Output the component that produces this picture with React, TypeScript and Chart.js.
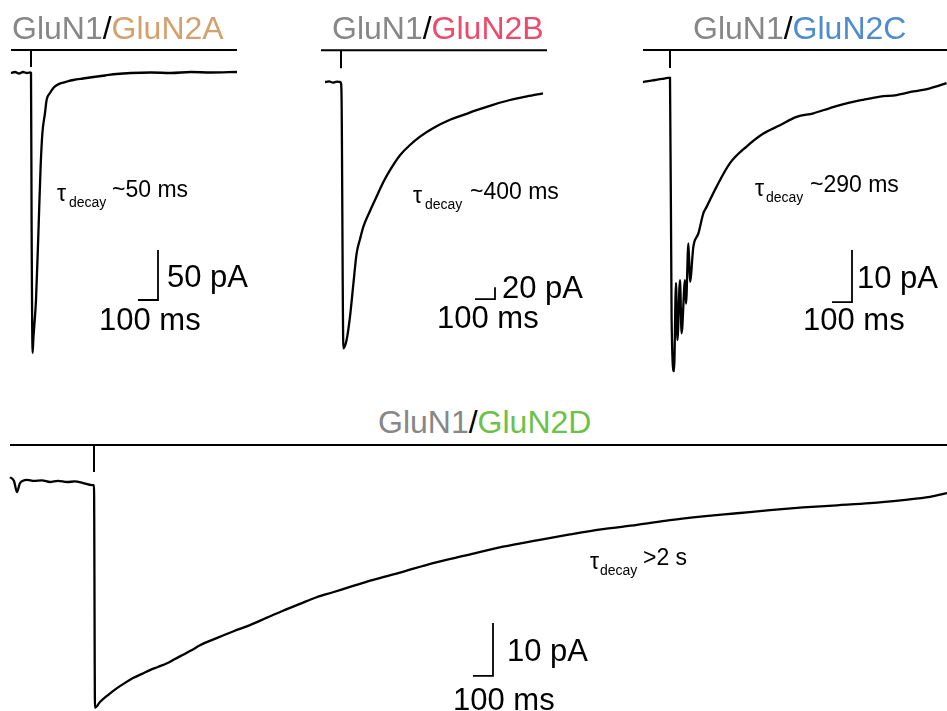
import React, { useEffect, useRef } from "react";
import { Chart, registerables } from "chart.js";

Chart.register(...registerables);

// ---- Data (time in ms from agonist onset, current in pA relative to baseline) ----
// GluN1/GluN2A
const tA = [-100, -80, -60, -40, -20, -5, 0, 3, 8, 12, 25, 37, 48, 57, 70, 78, 95, 112, 130, 153, 180, 212, 260, 312, 370, 428, 500, 600, 700, 800, 900, 1030];
const iA = [0, 1, -0.5, 1, 0, 0.5, 0, -150, -280, -265, -227, -160, -94, -60, -40, -27, -20, -15, -12, -10, -8.5, -7, -5.5, -4, -2.5, -1, 0, 0.5, 0, 1, 0.5, 1];
// GluN1/GluN2B
const tB = [-80, -60, -40, -20, -5, 0, 3, 12, 28, 45, 62, 78, 95, 112, 145, 178, 210, 245, 295, 345, 395, 460, 545, 620, 678, 760, 845, 930, 1010];
const iB = [0, 1, -1, 0.5, 0, -2, -30, -444, -430, -391, -336, -286, -262, -241, -215, -191, -168, -147, -122, -105, -91, -77, -63, -54, -47, -38, -30, -24, -19];
// GluN1/GluN2C
const tC = [-135, -110, -75, -40, -10, 0, 8, 20, 30, 37, 50, 58, 75, 80, 92, 100, 117, 142, 167, 183, 233, 300, 383, 467, 550, 633, 717, 800, 883, 967, 1050, 1133, 1217, 1300, 1383];
const iC = [-0.4, -0.2, 0, 0.2, 0.4, 0.4, -46, -56, -39, -50, -38.5, -48.7, -38.5, -43, -31.4, -38.8, -32, -29.5, -25.6, -24.4, -20.5, -16, -12.8, -10.3, -8.7, -7.1, -6.4, -5.4, -4.5, -3.8, -3.2, -2.9, -2.2, -1.6, -0.6];
// GluN1/GluN2D
const tD = [-420, -400, -385, -370, -335, -300, -260, -220, -180, -135, -95, -55, -10, 0, 5, 30, 70, 115, 155, 195, 240, 280, 320, 365, 405, 445, 490, 530, 610, 695, 780, 865, 945, 1030, 1110, 1195, 1280, 1365, 1450, 1530, 1695, 1865, 2045, 2215, 2380, 2545, 2715, 2880, 3045, 3215, 3380, 3545, 3715, 3880, 4045, 4180, 4265];
const iD = [0.9, 0.2, -1.9, -0.2, 0.4, 0.2, 0.3, 0, 0.2, 0, 0.1, -0.2, -0.6, -0.6, -42.6, -41.5, -40.2, -38.9, -37.9, -37.0, -36.2, -35.5, -34.9, -34.2, -33.4, -32.6, -31.7, -30.8, -29.5, -28.2, -27.0, -25.6, -24.3, -23.0, -21.8, -20.8, -19.8, -18.8, -17.9, -17.1, -15.3, -13.8, -12.2, -11.0, -9.9, -8.9, -8.1, -7.2, -6.5, -5.9, -5.3, -4.8, -4.4, -4.0, -3.4, -2.8, -2.1];

// agonist application bars [start ms, end ms, level pA, tick end pA]
const stimA = [-100, 1030, 23, 6];
const stimB = [-100, 1030, 53, 23];
const stimC = [-135, 1385, 5.77, 2.3];
const stimD = [-420, 4265, 6.98, 1.89];

// scale bars [corner ms, corner pA, length ms, length pA]
const barA = [535, -227, 100, 50];
const barB = [670, -362, 100, 20];
const barC = [810, -42.7, 100, 10];
const barD = [1895, -36.6, 100, 10];

const titles = ["GluN2A", "GluN2B", "GluN2C", "GluN2D"];
const scaleLabelsPA = ["50 pA", "20 pA", "10 pA", "10 pA"];
const tauLabels = ["~50 ms", "~400 ms", "~290 ms", ">2 s"];

const FONT = '"Liberation Sans", Arial, Helvetica, sans-serif';
const GREY = "#878787";
const COLORS = ["#d4a06c", "#ee4a6b", "#4d8ccf", "#6cc148"];

type PanelProps = {
  left: number; top: number; width: number; height: number;
  xMin: number; xMax: number; yMin: number; yMax: number;
  t: number[]; i: number[]; stim: number[]; bar: number[];
};

function Panel(p: PanelProps) {
  const ref = useRef<HTMLCanvasElement | null>(null);
  useEffect(() => {
    if (!ref.current) return;
    const line = (data: { x: number; y: number }[], w: number, smooth = false) => ({
      type: "line" as const,
      data,
      borderColor: "#000",
      borderWidth: w,
      pointRadius: 0,
      fill: false,
      tension: 0,
      cubicInterpolationMode: smooth ? ("monotone" as const) : ("default" as const),
      borderCapStyle: "butt" as const,
      borderJoinStyle: "miter" as const,
      clip: false as any,
    });
    const [s0, s1, sl, st] = p.stim;
    const [bx, by, bdx, bdy] = p.bar;
    const chart = new Chart(ref.current, {
      type: "line",
      data: {
        datasets: [
          line(p.t.map((x, k) => ({ x, y: p.i[k] })), 2.3, true),
          line([{ x: s0, y: sl }, { x: s1, y: sl }], 2),
          line([{ x: 0, y: sl }, { x: 0, y: st }], 2),
          line([{ x: bx, y: by }, { x: bx + bdx, y: by }, { x: bx + bdx, y: by + bdy }], 1.8),
        ],
      },
      options: {
        animation: false,
        responsive: false,
        maintainAspectRatio: false,
        events: [],
        layout: { padding: 0 },
        plugins: { legend: { display: false }, tooltip: { enabled: false }, title: { display: false } },
        scales: {
          x: { type: "linear", min: p.xMin, max: p.xMax, display: false },
          y: { type: "linear", min: p.yMin, max: p.yMax, display: false },
        },
      },
    });
    return () => chart.destroy();
  }, []);
  return (
    <canvas
      ref={ref}
      width={p.width}
      height={p.height}
      style={{ position: "absolute", left: p.left, top: p.top, width: p.width, height: p.height }}
    />
  );
}

function Txt({ x, b, size, color = "#000", children }: { x: number; b: number; size: number; color?: string; children: React.ReactNode }) {
  return (
    <span
      style={{
        position: "absolute",
        left: x,
        top: b - 0.8465 * size,
        fontSize: size,
        lineHeight: size + "px",
        fontFamily: FONT,
        color,
        whiteSpace: "nowrap",
      }}
    >
      {children}
    </span>
  );
}

function Title({ x, b, k }: { x: number; b: number; k: number }) {
  return (
    <Txt x={x} b={b} size={32}>
      <span style={{ color: GREY }}>GluN1</span>
      <span style={{ color: "#000" }}>/</span>
      <span style={{ color: COLORS[k] }}>{titles[k]}</span>
    </Txt>
  );
}

function Tau({ x, xs, xt, b, k }: { x: number; xs: number; xt: number; b: number; k: number }) {
  return (
    <>
      <Txt x={x} b={b + 4} size={23}>τ</Txt>
      <Txt x={xs} b={b + 10} size={14}>decay</Txt>
      <Txt x={xt} b={b} size={23}>{tauLabels[k]}</Txt>
    </>
  );
}

export default function App() {
  return (
    <div style={{ position: "absolute", left: 0, top: 0, width: 947, height: 711, overflow: "hidden", background: "#fff" }}>
      <Panel left={0} top={40} width={250} height={330} xMin={-155} xMax={1095} yMin={-297} yMax={33} t={tA} i={iA} stim={stimA} bar={barA} />
      <Panel left={310} top={40} width={250} height={330} xMin={-155} xMax={1095} yMin={-480} yMax={70} t={tB} i={iB} stim={stimB} bar={barB} />
      <Panel left={630} top={40} width={317} height={340} xMin={-200} xMax={1385} yMin={-57.69} yMax={7.69} t={tC} i={iC} stim={stimC} bar={barC} />
      <Panel left={0} top={440} width={947} height={271} xMin={-470} xMax={4265} yMin={-43.21} yMax={7.925} t={tD} i={iD} stim={stimD} bar={barD} />

      <Title x={12} b={39} k={0} />
      <Title x={332} b={39} k={1} />
      <Title x={693} b={39} k={2} />
      <Title x={378} b={433} k={3} />

      <Tau x={57} xs={69} xt={112} b={197} k={0} />
      <Tau x={413} xs={425} xt={470} b={199} k={1} />
      <Tau x={755} xs={766} xt={810} b={192} k={2} />
      <Tau x={590} xs={600} xt={643} b={565} k={3} />

      <Txt x={167} b={287} size={31}>{scaleLabelsPA[0]}</Txt>
      <Txt x={99} b={330} size={31}>100 ms</Txt>
      <Txt x={502} b={298} size={31}>{scaleLabelsPA[1]}</Txt>
      <Txt x={437} b={328} size={31}>100 ms</Txt>
      <Txt x={857} b={288} size={31}>{scaleLabelsPA[2]}</Txt>
      <Txt x={803} b={330} size={31}>100 ms</Txt>
      <Txt x={507} b={661} size={31}>{scaleLabelsPA[3]}</Txt>
      <Txt x={453} b={710} size={31}>100 ms</Txt>
    </div>
  );
}
